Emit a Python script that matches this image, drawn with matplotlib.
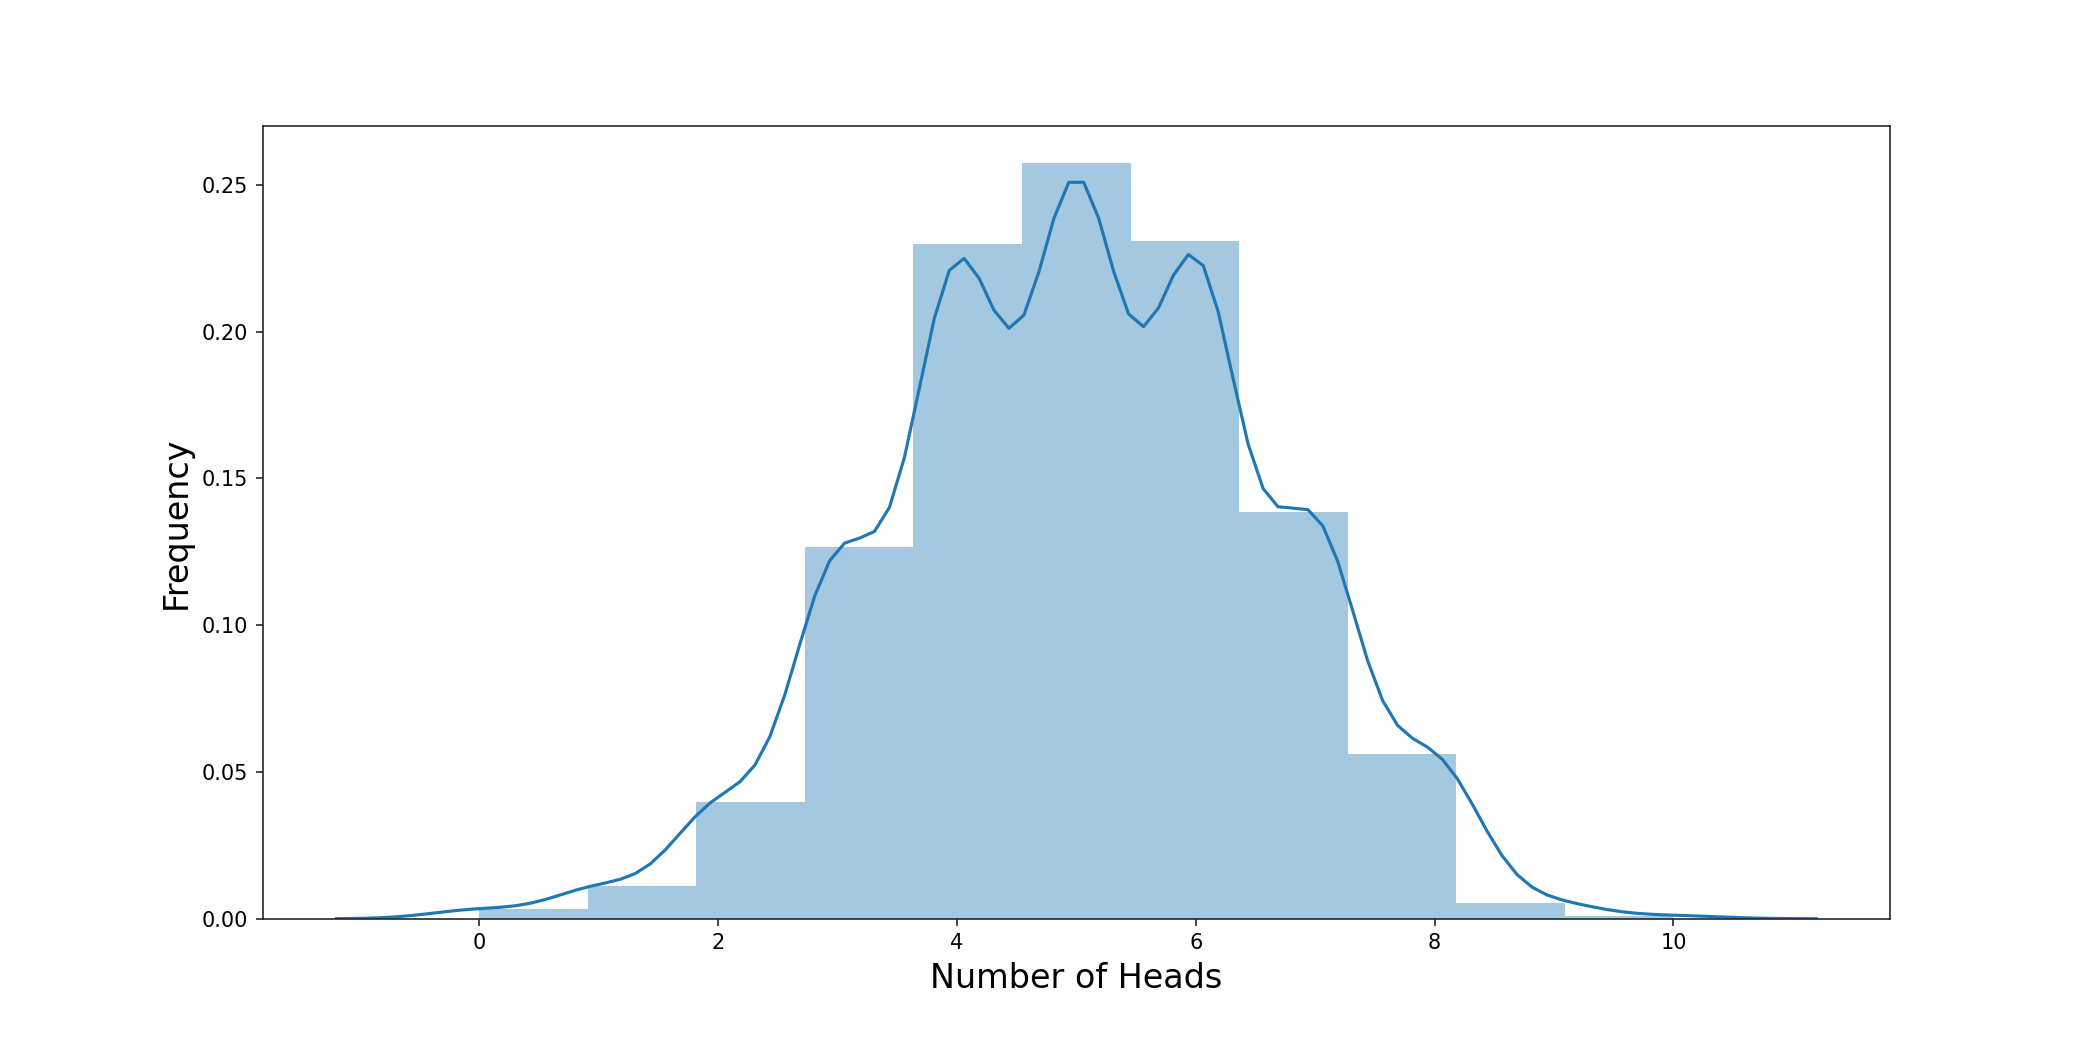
import numpy as np
import matplotlib
matplotlib.use("Agg")
import matplotlib.pyplot as plt
import seaborn as sns

# Number of heads in 10 coin tosses, and how often each outcome occurred (1000 trials)
heads = [0, 1, 2, 3, 4, 5, 6, 7, 8, 9, 10]
counts = [3, 10, 36, 115, 209, 234, 210, 126, 51, 5, 1]
x_label = "Number of Heads"
y_label = "Frequency"

samples = np.repeat(heads, counts)

fig = plt.figure(figsize=(14, 7), dpi=150)
ax = fig.add_axes([0.125, 0.125, 0.775, 0.755])

ax.hist(samples, bins=11, density=True, color="#1f77b4", alpha=0.4)
sns.kdeplot(x=samples, ax=ax, color="#1f77b4", bw_method="scott", cut=3,
            gridsize=100, linewidth=1.5)

ax.set_ylim(0, 0.27)
ax.set_xlabel(x_label, fontsize=16)
ax.set_ylabel(y_label, fontsize=16)
for s in ax.spines.values():
    s.set_color("0.15")
ax.tick_params(colors="0.15", labelcolor="black", labelsize=10)

fig.savefig("out.png", dpi=150)
